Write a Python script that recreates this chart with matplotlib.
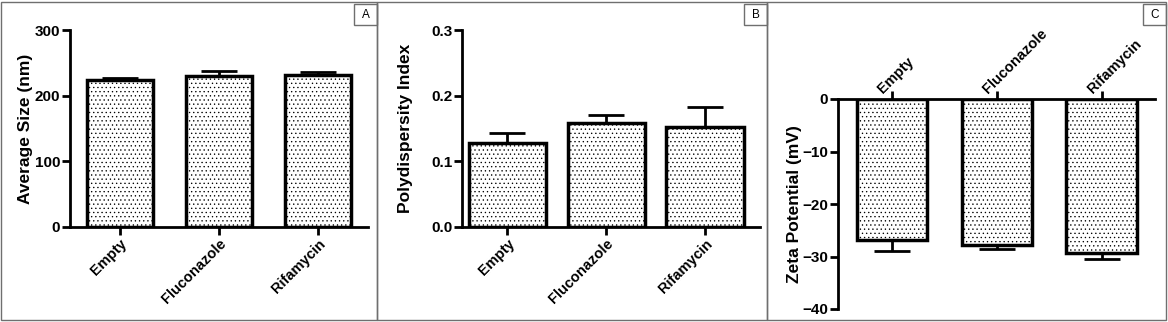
import matplotlib
matplotlib.use("Agg")
import matplotlib.pyplot as plt
from matplotlib.patches import Rectangle
from matplotlib.transforms import ScaledTranslation

plt.rcParams['font.family'] = ['Liberation Sans', 'DejaVu Sans']
plt.rcParams['font.weight'] = 'bold'
plt.rcParams['hatch.color'] = '#909090'
plt.rcParams['hatch.linewidth'] = 0.45

categories = ["Empty", "Fluconazole", "Rifamycin"]

size_mean = [224, 230, 231.5]
size_err = [3, 7.5, 4.5]

pdi_mean = [0.128, 0.158, 0.152]
pdi_err = [0.015, 0.012, 0.030]

zeta_mean = [-26.8, -27.8, -29.3]
zeta_err = [2.2, 0.8, 1.2]

W, H = 1168, 322
fig = plt.figure(figsize=(W / 100, H / 100), dpi=100)


def px_axes(x0, x1, ytop, ybot):
    return fig.add_axes([x0 / W, (H - ybot) / H, (x1 - x0) / W, (ybot - ytop) / H])


def style(ax):
    for s in ["left", "bottom", "top"]:
        ax.spines[s].set_linewidth(2)
    ax.spines["right"].set_visible(False)
    ax.tick_params(width=2, length=5.5, labelsize=11, pad=1.5)
    for lab in ax.get_yticklabels():
        lab.set_fontweight('bold')


def bars(ax, means, errs, width, up=True):
    x = list(range(len(categories)))
    yerr = [[0] * len(errs), errs] if up else [errs, [0] * len(errs)]
    ax.bar(x, means, width=width, color='white', edgecolor='black', linewidth=2.5,
           hatch='....', zorder=2)
    ax.errorbar(x, means, yerr=yerr, fmt='none', ecolor='black', elinewidth=2,
                capsize=13, capthick=2, zorder=1)
    ax.set_xticks(x)


# panel A
axA = px_axes(70, 368, 30, 227)
bars(axA, size_mean, size_err, 0.667)
axA.set_xlim(-0.505, 2.505)
axA.set_ylim(0, 300)
axA.set_yticks([0, 100, 200, 300])
axA.spines["top"].set_visible(False)
style(axA)
axA.set_xticklabels(categories, rotation=45, ha='right', rotation_mode='anchor',
                    fontsize=10.5, fontweight='bold')
axA.set_ylabel("Average Size (nm)", fontsize=12.5, fontweight='bold')
axA.yaxis.set_label_coords(-0.124, 0.5)

# panel B
axB = px_axes(462, 760, 30, 227)
bars(axB, pdi_mean, pdi_err, 0.78)
axB.set_xlim(-0.46, 2.557)
axB.set_ylim(0, 0.3)
axB.set_yticks([0.0, 0.1, 0.2, 0.3])
axB.set_yticklabels(["0.0", "0.1", "0.2", "0.3"])
axB.spines["top"].set_visible(False)
style(axB)
axB.set_xticklabels(categories, rotation=45, ha='right', rotation_mode='anchor',
                    fontsize=10.5, fontweight='bold')
axB.set_ylabel("Polydispersity Index", fontsize=12.5, fontweight='bold')
axB.yaxis.set_label_coords(-0.164, 0.5)

# panel C
axC = px_axes(838, 1155, 99, 309)
bars(axC, zeta_mean, zeta_err, 0.67, up=False)
axC.set_xlim(-0.515, 2.51)
axC.set_ylim(-40, 0)
axC.set_yticks([0, -10, -20, -30, -40])
axC.spines["bottom"].set_visible(False)
style(axC)
axC.xaxis.tick_top()
axC.tick_params(axis='x', pad=0)
axC.set_xticklabels(categories, rotation=45, ha='left', va='bottom',
                    rotation_mode='anchor', fontsize=10.5, fontweight='bold')
shift = ScaledTranslation(-7 / 100, -5 / 100, fig.dpi_scale_trans)
for lab in axC.get_xticklabels():
    lab.set_transform(lab.get_transform() + shift)
axC.set_ylabel("Zeta Potential (mV)", fontsize=12.5, fontweight='bold')
axC.yaxis.set_label_coords(-0.114, 0.5)

# panel frames and letter boxes
frames = [(1, 377), (377, 767), (767, 1166)]
letters = ["A", "B", "C"]
for (x0, x1), letter in zip(frames, letters):
    fig.patches.append(Rectangle((x0 / W, 2 / H), (x1 - x0) / W, (H - 4) / H,
                                 transform=fig.transFigure, fill=False,
                                 edgecolor='#6f6f6f', linewidth=1))
    fig.patches.append(Rectangle(((x1 - 23) / W, (H - 25) / H), 23 / W, 21 / H,
                                 transform=fig.transFigure, fill=False,
                                 edgecolor='#6f6f6f', linewidth=1))
    fig.text((x1 - 11.5) / W, (H - 14.5) / H, letter, ha='center', va='center',
             fontsize=8.5, fontweight='normal')

fig.savefig("out.png", dpi=100)
